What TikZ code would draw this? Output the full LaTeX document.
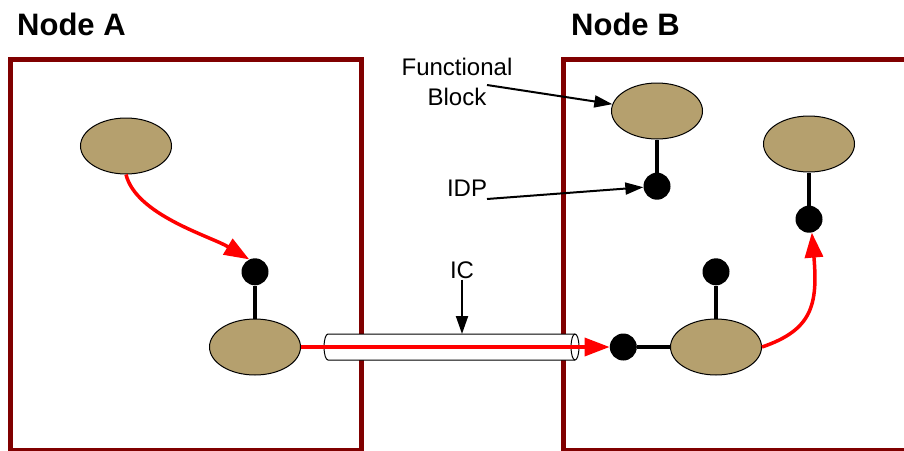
\documentclass[tikz,border=0pt]{standalone}
\usepackage{fontspec}
\setmainfont{Liberation Sans}
\usetikzlibrary{positioning, shapes.geometric, arrows.meta}
\definecolor{nodered}{RGB}{128,0,0}
\definecolor{blocktan}{RGB}{181,160,110}

\begin{document}
\begin{tikzpicture}[
        x=1pt, y=-1pt,
        node distance=33pt,
        fblock/.style={ellipse, draw, fill=blocktan, line width=1pt,
                       minimum width=91pt, minimum height=56pt, inner sep=0pt},
        idp/.style={circle, fill=black, minimum size=27pt, inner sep=0pt},
        nodebox/.style={draw=nodered, line width=5pt},
        title/.style={anchor=base west, inner sep=0pt,
                      font=\fontsize{31}{36}\selectfont\bfseries},
        lbl/.style={font=\fontsize{24}{30}\selectfont, align=center,
                    inner sep=1pt},
        link/.style={line width=3.5pt},
        flow/.style={-{Triangle[length=25pt, width=18pt]}, line width=3.5pt,
                     draw=red},
        pointer/.style={-{Triangle[length=18pt, width=12pt]}, line width=2pt},
        tubeline/.style={draw, fill=white, line width=1pt}
    ]
    \useasboundingbox (0,0) rectangle (904,450);

    %% NODE BOXES
    \draw[nodebox] (10,59) rectangle (361,450);
    \draw[nodebox] (563,59) rectangle (930,450);
    \node[title] (titleA) at (17,35) {Node A};
    \node[title] (titleB) at (571,35) {Node B};

    %% NODE A
    \node[fblock] (fbA1) at (126,146) {};
    \node[fblock] (fbA2) at (255,347) {};
    \node[idp, above=of fbA2] (idpA) {};
    \draw[link] (idpA) -- (fbA2);
    \draw[flow] (fbA1.south) .. controls (136,215) and (210,236) .. (idpA.115);

    %% NODE B
    \node[fblock] (fbB1) at (657,111) {};
    \node[idp, below=of fbB1] (idpB1) {};
    \draw[link] (fbB1) -- (idpB1);

    \node[fblock] (fbB2) at (809,144) {};
    \node[idp, below=of fbB2] (idpB2) {};
    \draw[link] (fbB2) -- (idpB2);

    \node[fblock] (fbB3) at (716,347) {};
    \node[idp, above=of fbB3] (idpB3) {};
    \node[idp, left=of fbB3] (idpB3in) {};
    \draw[link] (idpB3) -- (fbB3);
    \draw[link] (idpB3in) -- (fbB3);
    \draw[flow] (fbB3.east) .. controls (812,330) and (818,305) .. (idpB2.-78);

    %% INTERCONNECT (tube)
    \path[tubeline] (328,334) -- (575,334)
        arc[start angle=-90, end angle=90, x radius=4, y radius=13]
        -- (328,360)
        arc[start angle=90, end angle=270, x radius=4, y radius=13] -- cycle;
    \draw[line width=1pt] (575,360)
        arc[start angle=90, end angle=270, x radius=4, y radius=13];
    \coordinate (ictop) at (462,334);
    \draw[flow] (fbA2) -- (idpB3in);

    %% LABELS
    \node[lbl] (iclbl) at (462,270) {IC};
    \draw[pointer] (iclbl) -- (ictop);

    \node[lbl] (fblbl) at (457,82) {Functional\\Block};
    \coordinate (fbtail) at (487,85);
    \draw[pointer] (fbtail) -- (fbB1);

    \node[lbl] (idplbl) at (467,188) {IDP};
    \coordinate (idptail) at (487,199);
    \draw[pointer] (idptail) -- (idpB1);

    \end{tikzpicture}
\end{document}
